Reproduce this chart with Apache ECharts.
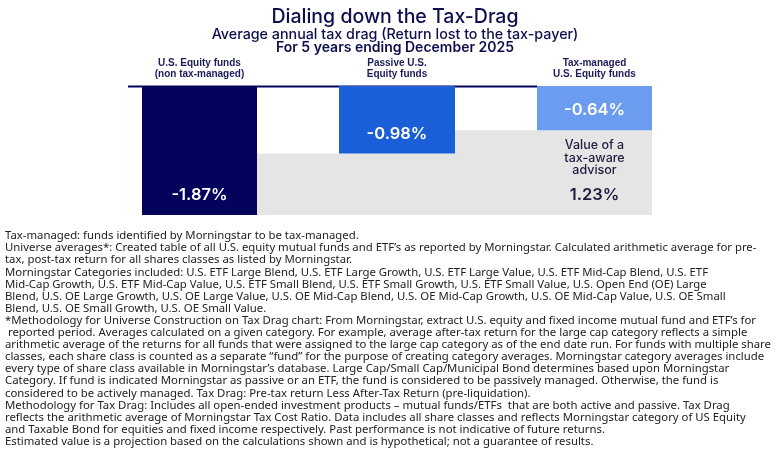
<!DOCTYPE html>
<html>
<head>
<meta charset="utf-8">
<script src="https://cdn.jsdelivr.net/npm/echarts@6/dist/echarts.min.js"></script>
<style>
  html, body { margin: 0; padding: 0; background: #fff; }
  #chart { width: 780px; height: 450px; }
</style>
</head>
<body>
<div id="chart"></div>
<script>
// data
const fundGroups = ["U.S. Equity funds\n(non tax-managed)", "Passive U.S.\nEquity funds", "Tax-managed\nU.S. Equity funds"];
const taxDrag = [-1.87, -0.98, -0.64];
const advisorLabel = "Value of a\ntax-aware\nadvisor";
const advisorValue = 1.23;

const titleLines = [
    "Dialing down the Tax-Drag",
    "Average annual tax drag (Return lost to the tax-payer)",
    "For 5 years ending December 2025"
];

const footnotes = [
    "Tax-managed: funds identified by Morningstar to be tax-managed.",
    "Universe averages*: Created table of all U.S. equity mutual funds and ETF\u2019s as reported by Morningstar. Calculated arithmetic average for pre-",
    "tax, post-tax return for all shares classes as listed by Morningstar.",
    "Morningstar Categories included: U.S. ETF Large Blend, U.S. ETF Large Growth, U.S. ETF Large Value, U.S. ETF Mid-Cap Blend, U.S. ETF",
    "Mid-Cap Growth, U.S. ETF Mid-Cap Value, U.S. ETF Small Blend, U.S. ETF Small Growth, U.S. ETF Small Value, U.S. Open End (OE) Large",
    "Blend, U.S. OE Large Growth, U.S. OE Large Value, U.S. OE Mid-Cap Blend, U.S. OE Mid-Cap Growth, U.S. OE Mid-Cap Value, U.S. OE Small",
    "Blend, U.S. OE Small Growth, U.S. OE Small Value.",
    "*Methodology for Universe Construction on Tax Drag chart: From Morningstar, extract U.S. equity and fixed income mutual fund and ETF\u2019s for",
    " reported period. Averages calculated on a given category. For example, average after-tax return for the large cap category reflects a simple",
    "arithmetic average of the returns for all funds that were assigned to the large cap category as of the end date run. For funds with multiple share",
    "classes, each share class is counted as a separate \u201cfund\u201d for the purpose of creating category averages. Morningstar category averages include",
    "every type of share class available in Morningstar\u2019s database. Large Cap/Small Cap/Municipal Bond determines based upon Morningstar",
    "Category. If fund is indicated Morningstar as passive or an ETF, the fund is considered to be passively managed. Otherwise, the fund is",
    "considered to be actively managed. Tax Drag: Pre-tax return Less After-Tax Return (pre-liquidation).",
    "Methodology for Tax Drag: Includes all open-ended investment products \u2013 mutual funds/ETFs  that are both active and passive. Tax Drag",
    "reflects the arithmetic average of Morningstar Tax Cost Ratio. Data includes all share classes and reflects Morningstar category of US Equity",
    "and Taxable Bond for equities and fixed income respectively. Past performance is not indicative of future returns.",
    "Estimated value is a projection based on the calculations shown and is hypothetical; not a guarantee of results."
];

// layout of the columns along the (hidden) x axis: start, width
const colStart = [14, 211, 409];
const colWidth = [115, 116, 115];
const barColors = ["#03035c", "#1b5fd8", "#6b9cef"];
const navy = "#0e0e4e";
const fontGeo = "Inter, 'Noto Sans', sans-serif";

let chart = echarts.init(document.getElementById("chart"));

function renderBar(params, api) {
    let i = params.dataIndex;
    let x0 = colStart[i], x1 = colStart[i] + colWidth[i];
    let p0 = api.coord([x0, 0]);
    let p1 = api.coord([x1, api.value(1)]);
    let cx = (p0[0] + p1[0]) / 2;
    let children = [
        {
            type: "rect",
            shape: {x: p0[0], y: p0[1], width: p1[0] - p0[0], height: p1[1] - p0[1]},
            style: {fill: barColors[i]}
        },
        {
            type: "text",
            style: {
                x: cx, y: p1[1] - 20,
                text: api.value(1).toFixed(2) + "%",
                fill: "#fff", font: "600 16.5px " + fontGeo,
                align: "center", verticalAlign: "middle"
            }
        },
        {
            type: "text",
            style: {
                x: cx, y: p0[1] - 6,
                text: fundGroups[i],
                fill: "#1c1c5a", font: "bold 10px 'Liberation Sans', Arial, sans-serif",
                lineHeight: 11,
                align: "center", verticalAlign: "bottom"
            }
        }
    ];
    return {type: "group", children: children};
}

function renderGap(params, api) {
    // grey steps between each bar and the deepest drag
    let base = taxDrag[0];
    let pieces = [
        [colStart[0] + colWidth[0], colStart[1] + colWidth[1], taxDrag[1]],
        [colStart[1] + colWidth[1], colStart[2] + colWidth[2], taxDrag[2]]
    ];
    let children = pieces.map(function (pc) {
        let a = api.coord([pc[0], pc[2]]);
        let b = api.coord([pc[1], base]);
        return {
            type: "rect",
            shape: {x: a[0], y: a[1], width: b[0] - a[0], height: b[1] - a[1]},
            style: {fill: "#e5e5e5"}
        };
    });
    let c0 = api.coord([colStart[2], taxDrag[2]]);
    let c1 = api.coord([colStart[2] + colWidth[2], base]);
    let cx = (c0[0] + c1[0]) / 2;
    children.push({
        type: "text",
        style: {
            x: cx, y: c0[1] + 9, text: advisorLabel,
            fill: "#1d1d40", font: "500 12.5px " + fontGeo, lineHeight: 12.6,
            align: "center", verticalAlign: "top"
        }
    });
    children.push({
        type: "text",
        style: {
            x: cx, y: c1[1] - 20, text: advisorValue.toFixed(2) + "%",
            fill: "#1d1d40", font: "600 16.5px " + fontGeo,
            align: "center", verticalAlign: "middle"
        }
    });
    // zero line up to the tax-managed column
    let z0 = api.coord([0, 0]);
    let z1 = api.coord([colStart[2], 0]);
    children.push({
        type: "line",
        shape: {x1: z0[0], y1: z0[1] + 0.5, x2: z1[0], y2: z1[1] + 0.5},
        style: {stroke: "#03035c", lineWidth: 2}
    });
    return {type: "group", children: children};
}

let graphics = [];
const titleFonts = ["500 19.5px ", "500 14.3px ", "600 14px "];
titleLines.forEach(function (t, i) {
    graphics.push({
        type: "text", x: 395, y: [7, 28, 41][i],
        style: {text: t, fill: navy, font: titleFonts[i] + fontGeo, align: "center"}
    });
});
footnotes.forEach(function (t, i) {
    graphics.push({
        type: "text", left: 5, top: 230.5 + i * 12.1,
        style: {text: t, fill: "#222", font: "11.35px 'Noto Sans', sans-serif"}
    });
});

let option = {
    animation: false,
    grid: {left: 128, right: 128, top: 86, bottom: 235},
    xAxis: {type: "value", min: 0, max: 524, show: false},
    yAxis: {type: "value", min: taxDrag[0], max: 0, show: false},
    graphic: graphics,
    series: [
        {
            type: "custom", z: 1,
            renderItem: renderGap,
            data: [[0, taxDrag[0]]]
        },
        {
            type: "custom", z: 2,
            renderItem: renderBar,
            data: taxDrag.map(function (v, i) { return [i, v]; })
        }
    ]
};
chart.setOption(option);
</script>
</body>
</html>
